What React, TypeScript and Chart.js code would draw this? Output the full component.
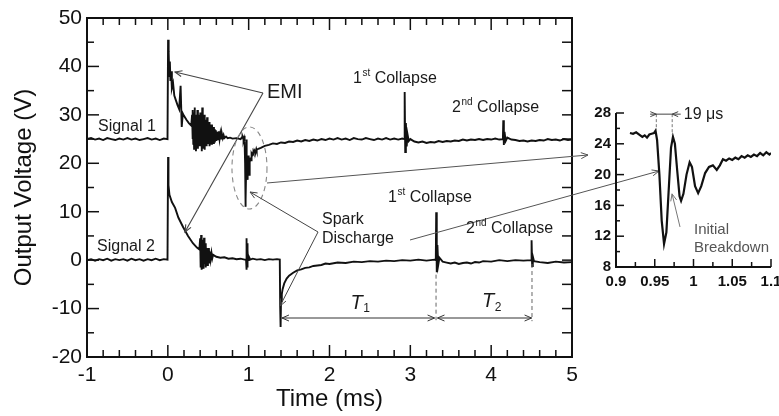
import React, { useEffect, useRef } from "react";
import { Chart, registerables } from "chart.js";
Chart.register(...registerables);

const FONT = "'Liberation Sans', Arial, Helvetica, sans-serif";

// time (ms), output voltage (V)
const SIGNAL_1: [number, number][] = [
  [-1.0, 25.0], [-0.95, 25.2], [-0.9, 24.9], [-0.85, 25.1], [-0.8, 24.8], [-0.75, 25.2], [-0.7, 25.0], [-0.65, 24.8], [-0.6, 25.1], [-0.55, 24.9], [-0.5, 25.2], [-0.45, 24.9], [-0.4, 25.1], [-0.35, 24.8], [-0.3, 25.0], [-0.25, 25.2], [-0.2, 24.9], [-0.15, 25.1], [-0.1, 24.8], [-0.05, 25.1], [-0.004, 25.0],
  [0.003, 45.5], [0.008, 40.0], [0.012, 43.0], [0.018, 38.0], [0.025, 41.0], [0.032, 37.0], [0.04, 39.0], [0.05, 35.5], [0.065, 36.5], [0.08, 34.0], [0.1, 33.0], [0.12, 32.0], [0.14, 31.2], [0.158, 36.0], [0.172, 27.5], [0.185, 30.3], [0.2, 29.8], [0.23, 29.0], [0.26, 28.3], [0.29, 27.8],
  [0.3, 30.0], [0.305, 25.0], [0.31, 31.0], [0.315, 24.0], [0.32, 30.5], [0.325, 23.0], [0.33, 31.5], [0.336, 24.0], [0.342, 30.0], [0.348, 22.5], [0.354, 29.5], [0.36, 24.0], [0.366, 31.0], [0.372, 23.0], [0.378, 30.0], [0.384, 24.5], [0.39, 29.0], [0.396, 23.5], [0.402, 30.5], [0.408, 24.0], [0.414, 29.0], [0.42, 22.5], [0.426, 31.5], [0.432, 23.0], [0.438, 29.5], [0.444, 24.0], [0.45, 30.0], [0.456, 22.8], [0.462, 29.0], [0.468, 24.5], [0.474, 28.5], [0.48, 23.5], [0.486, 29.5], [0.492, 24.0], [0.498, 28.0], [0.504, 24.5], [0.51, 28.5], [0.516, 23.5], [0.522, 28.0], [0.528, 24.8], [0.534, 27.5], [0.54, 24.0], [0.546, 28.0], [0.552, 25.0], [0.558, 27.2], [0.564, 24.2], [0.57, 27.5], [0.576, 24.5], [0.582, 27.0], [0.588, 25.0], [0.594, 26.8], [0.6, 24.6], [0.61, 26.5], [0.62, 24.8], [0.63, 26.6], [0.64, 25.0], [0.65, 26.2], [0.66, 25.1], [0.67, 26.0], [0.68, 25.2], [0.69, 25.8], [0.7, 25.2], [0.72, 25.5], [0.74, 25.2], [0.77, 25.3], [0.8, 25.1], [0.85, 25.2], [0.9, 25.0],
  [0.918, 25.4], [0.922, 25.3], [0.926, 25.5], [0.93, 25.2], [0.934, 24.9], [0.937, 25.1], [0.94, 24.8], [0.943, 25.2], [0.946, 25.3], [0.949, 25.4], [0.951, 25.7], [0.953, 24.5], [0.956, 20.0], [0.959, 14.0], [0.962, 11.0], [0.965, 12.5], [0.968, 18.0], [0.971, 23.5], [0.9735, 24.9], [0.976, 24.0], [0.979, 20.5], [0.982, 17.2], [0.984, 16.6], [0.987, 17.5], [0.991, 20.0], [0.995, 21.6], [0.998, 21.0], [1.002, 18.5], [1.006, 17.6], [1.01, 18.5], [1.015, 20.2], [1.02, 21.0], [1.025, 21.2], [1.03, 20.6], [1.034, 21.2], [1.038, 22.0], [1.042, 21.8], [1.046, 22.1], [1.05, 21.9], [1.054, 22.2], [1.058, 22.0], [1.062, 22.4], [1.066, 22.2], [1.07, 22.5], [1.074, 22.3], [1.078, 22.6], [1.082, 22.4], [1.086, 22.8], [1.09, 22.5], [1.094, 22.9], [1.098, 22.6], [1.1, 22.8],
  [1.12, 23.0], [1.15, 23.2], [1.2, 23.6], [1.25, 23.8], [1.3, 24.1], [1.35, 24.0], [1.4, 24.3], [1.45, 24.2], [1.5, 24.5], [1.55, 24.4], [1.6, 24.7], [1.65, 24.5], [1.7, 24.8], [1.75, 24.6], [1.8, 24.9], [1.85, 24.7], [1.9, 25.0], [1.95, 24.8], [2.0, 25.1], [2.05, 24.9], [2.1, 25.2], [2.15, 24.9], [2.2, 25.1], [2.25, 24.8], [2.3, 25.2], [2.35, 25.0], [2.4, 24.9], [2.45, 25.2], [2.5, 25.0], [2.55, 24.8], [2.6, 25.1], [2.65, 24.9], [2.7, 25.2], [2.75, 24.9], [2.8, 25.1], [2.85, 24.9], [2.9, 25.1], [2.925, 25.0],
  [2.93, 34.7], [2.937, 22.3], [2.945, 28.3], [2.955, 23.5], [2.965, 26.0], [2.98, 24.6], [3.0, 25.0], [3.05, 24.5], [3.1, 24.3], [3.15, 24.5], [3.2, 24.2], [3.25, 24.4], [3.3, 24.3], [3.35, 24.6], [3.4, 24.4], [3.45, 24.6], [3.5, 24.5], [3.55, 24.7], [3.6, 24.6], [3.65, 24.9], [3.7, 24.7], [3.75, 24.9], [3.8, 24.8], [3.85, 25.0], [3.9, 24.8], [3.95, 25.0], [4.0, 24.9], [4.05, 25.1], [4.1, 24.9], [4.145, 25.0],
  [4.15, 28.9], [4.157, 23.8], [4.165, 26.5], [4.18, 24.6], [4.2, 25.3], [4.25, 24.9], [4.3, 24.8], [4.35, 24.6], [4.4, 24.7], [4.45, 24.5], [4.5, 24.7], [4.55, 24.6], [4.6, 24.8], [4.65, 24.7], [4.7, 25.0], [4.75, 24.8], [4.8, 24.9], [4.85, 24.7], [4.9, 25.0], [4.95, 24.8], [5.0, 24.9],
];

const SIGNAL_2: [number, number][] = [
  [-1.0, 0.0], [-0.95, 0.2], [-0.9, -0.1], [-0.85, 0.2], [-0.8, 0.0], [-0.75, 0.3], [-0.7, -0.1], [-0.65, 0.2], [-0.6, 0.0], [-0.55, 0.2], [-0.5, -0.1], [-0.45, 0.3], [-0.4, 0.0], [-0.35, 0.2], [-0.3, -0.1], [-0.25, 0.2], [-0.2, 0.0], [-0.15, 0.3], [-0.1, 0.0], [-0.05, 0.2], [-0.004, 0.1],
  [0.003, 21.3], [0.008, 15.5], [0.02, 13.5], [0.05, 12.0], [0.09, 10.8], [0.13, 8.8], [0.19, 6.8], [0.25, 5.0], [0.31, 3.5], [0.36, 2.6], [0.39, 2.2],
  [0.4, 4.5], [0.406, -1.5], [0.412, 5.2], [0.418, -2.0], [0.424, 4.2], [0.43, -1.2], [0.436, 3.8], [0.442, -1.8], [0.448, 4.6], [0.454, -0.8], [0.46, 3.5], [0.466, -1.5], [0.472, 3.0], [0.478, -0.5], [0.484, 2.5], [0.49, -1.0], [0.496, 2.2], [0.502, 0.0], [0.508, 2.5], [0.514, -0.5], [0.52, 1.8], [0.53, 0.2], [0.54, 1.5], [0.55, 0.4], [0.56, 1.1],
  [0.6, 0.7], [0.65, 0.5], [0.7, 0.6], [0.75, 0.3], [0.8, 0.4], [0.85, 0.2], [0.9, 0.3], [0.95, 0.1],
  [0.968, 0.1], [0.972, 4.5], [0.976, -2.0], [0.98, 3.5], [0.984, -1.5], [0.988, 2.0], [0.993, 0.0], [1.0, 0.8], [1.02, 0.1], [1.05, 0.3], [1.1, 0.1], [1.15, 0.2], [1.2, 0.0], [1.25, 0.2], [1.3, 0.1], [1.35, 0.2], [1.385, 0.1],
  [1.39, -9.7], [1.395, -13.8], [1.4, -8.5], [1.41, -7.0], [1.42, -6.0], [1.44, -4.8], [1.47, -3.8], [1.5, -3.2], [1.55, -2.6], [1.6, -2.1], [1.65, -1.9], [1.7, -1.6], [1.75, -1.5], [1.8, -1.2], [1.85, -1.1], [1.9, -1.0], [1.95, -0.7], [2.0, -0.8], [2.1, -0.5], [2.2, -0.6], [2.3, -0.3], [2.4, -0.4], [2.5, -0.2], [2.6, -0.3], [2.7, -0.1], [2.8, -0.2], [2.9, 0.0], [3.0, -0.1], [3.1, 0.1], [3.2, -0.1], [3.3, 0.1], [3.315, 0.0],
  [3.32, 9.9], [3.327, -2.5], [3.335, 3.1], [3.345, -1.0], [3.36, 0.5], [3.4, -0.3], [3.45, -0.5], [3.5, -0.7], [3.55, -0.5], [3.6, -0.8], [3.65, -0.6], [3.7, -0.5], [3.75, -0.7], [3.8, -0.4], [3.85, -0.5], [3.9, -0.2], [4.0, -0.3], [4.1, 0.0], [4.2, -0.2], [4.3, 0.0], [4.4, -0.1], [4.495, 0.0],
  [4.5, 4.1], [4.507, -1.2], [4.515, 0.8], [4.53, -0.2], [4.6, -0.4], [4.7, -0.6], [4.8, -0.3], [4.9, -0.5], [5.0, -0.4],
];

const X_RANGE = [-1, 5];
const Y_RANGE = [-20, 50];
const INSET_X_RANGE = [0.9, 1.1];
const INSET_Y_RANGE = [8, 28];
const INSET_WINDOW = [0.915, 1.1];

function seg(ctx: CanvasRenderingContext2D, x1: number, y1: number, x2: number, y2: number) {
  ctx.beginPath();
  ctx.moveTo(x1, y1);
  ctx.lineTo(x2, y2);
  ctx.stroke();
}

function head(ctx: CanvasRenderingContext2D, xf: number, yf: number, xt: number, yt: number, len = 7, w = 3) {
  const a = Math.atan2(yt - yf, xt - xf);
  const bx = xt - len * Math.cos(a), by = yt - len * Math.sin(a);
  ctx.beginPath();
  ctx.moveTo(bx + w * Math.sin(a), by - w * Math.cos(a));
  ctx.lineTo(xt, yt);
  ctx.lineTo(bx - w * Math.sin(a), by + w * Math.cos(a));
  ctx.stroke();
}

function arrow(ctx: CanvasRenderingContext2D, x1: number, y1: number, x2: number, y2: number, both = false) {
  seg(ctx, x1, y1, x2, y2);
  head(ctx, x1, y1, x2, y2);
  if (both) head(ctx, x2, y2, x1, y1);
}

function supText(ctx: CanvasRenderingContext2D, x: number, cy: number, base: string, sup: string, rest: string, size: number) {
  ctx.textAlign = "left";
  ctx.textBaseline = "middle";
  ctx.font = `${size}px ${FONT}`;
  ctx.fillText(base, x, cy);
  let w = ctx.measureText(base).width;
  ctx.font = `${Math.round(size * 0.6)}px ${FONT}`;
  ctx.fillText(sup, x + w + 0.5, cy - size * 0.33);
  w += ctx.measureText(sup).width + 0.5;
  ctx.font = `${size}px ${FONT}`;
  ctx.fillText(rest, x + w, cy);
}

function subItalic(ctx: CanvasRenderingContext2D, x: number, cy: number, main: string, sub: string, size: number) {
  ctx.textAlign = "left";
  ctx.textBaseline = "middle";
  ctx.font = `italic ${size}px ${FONT}`;
  ctx.fillText(main, x, cy);
  const w = ctx.measureText(main).width;
  ctx.font = `${Math.round(size * 0.62)}px ${FONT}`;
  ctx.fillText(sub, x + w + 0.5, cy + size * 0.3);
}

const mainDecor = {
  id: "mainDecor",
  afterDraw(chart: any) {
    const { ctx, chartArea: a } = chart;
    const xs = chart.scales.x, ys = chart.scales.y;
    const X = (v: number) => xs.getPixelForValue(v);
    const Y = (v: number) => ys.getPixelForValue(v);
    ctx.save();
    ctx.strokeStyle = "#111";
    ctx.lineWidth = 2;
    ctx.strokeRect(a.left, a.top, a.right - a.left, a.bottom - a.top);
    ctx.lineWidth = 1.5;
    for (let i = 0; i <= 30; i++) {
      const p = X(X_RANGE[0] + i * 0.2);
      const L = i % 5 === 0 ? 12 : 7;
      seg(ctx, p, a.bottom, p, a.bottom - L);
      seg(ctx, p, a.top, p, a.top + L);
    }
    for (let i = 0; i <= 14; i++) {
      const p = Y(Y_RANGE[0] + i * 5);
      seg(ctx, a.left, p, a.left + (i % 2 === 0 ? 12 : 7), p);
      seg(ctx, a.right, p, a.right - 10, p);
    }

    // EMI pointers
    ctx.strokeStyle = "#444";
    ctx.lineWidth = 1.1;
    arrow(ctx, X(1.177), Y(34.5), X(0.089), Y(38.85));
    arrow(ctx, X(1.177), Y(34.5), X(0.212), Y(5.81));

    // dashed ellipse
    ctx.strokeStyle = "#888";
    ctx.setLineDash([5, 4]);
    ctx.beginPath();
    ctx.ellipse(X(1.01), Y(19.03), Math.abs(X(1.2265) - X(1.01)), Math.abs(Y(27.5) - Y(19.03)), 0, 0, Math.PI * 2);
    ctx.stroke();
    ctx.setLineDash([]);

    // pointers to inset
    ctx.strokeStyle = "#555";
    ctx.lineWidth = 1;
    arrow(ctx, X(1.227), Y(15.93), X(5.198), Y(21.71));
    arrow(ctx, X(2.996), Y(4.16), X(6.077), Y(18.41));

    // spark discharge pointers
    ctx.strokeStyle = "#444";
    arrow(ctx, X(1.858), Y(5.81), X(1.017), Y(14.07));
    arrow(ctx, X(1.858), Y(5.81), X(1.388), Y(-9.47));

    // collapse dashed verticals
    ctx.strokeStyle = "#666";
    ctx.setLineDash([4, 3]);
    seg(ctx, X(3.318), Y(-3), X(3.318), Y(-12.4));
    seg(ctx, X(4.505), Y(-0.8), X(4.505), Y(-12.6));
    ctx.setLineDash([]);

    // T1 / T2 dimension arrows
    ctx.strokeStyle = "#333";
    arrow(ctx, X(1.412), Y(-11.95), X(3.30), Y(-11.95), true);
    arrow(ctx, X(3.336), Y(-11.95), X(4.50), Y(-11.95), true);

    // texts
    ctx.fillStyle = "#1a1a1a";
    ctx.textAlign = "left";
    ctx.textBaseline = "middle";
    ctx.font = `20px ${FONT}`;
    ctx.fillText("EMI", X(1.227), Y(34.7));
    ctx.font = `16px ${FONT}`;
    ctx.fillText("Signal 1", X(-0.864), Y(27.5));
    ctx.fillText("Signal 2", X(-0.876), Y(2.7));
    ctx.fillText("Spark", X(1.907), Y(8.29));
    ctx.fillText("Discharge", X(1.907), Y(4.37));
    supText(ctx, X(2.291), Y(37.4), "1", "st", " Collapse", 16);
    supText(ctx, X(3.516), Y(31.5), "2", "nd", " Collapse", 16);
    supText(ctx, X(2.724), Y(13.0), "1", "st", " Collapse", 16);
    supText(ctx, X(3.689), Y(6.6), "2", "nd", " Collapse", 16);
    subItalic(ctx, X(2.36) - 8, Y(-8.85), "T", "1", 20);
    subItalic(ctx, X(3.887), Y(-8.5), "T", "2", 20);
    ctx.restore();
  },
};

const insetDecor = {
  id: "insetDecor",
  afterDraw(chart: any) {
    const { ctx, chartArea: a } = chart;
    const xs = chart.scales.x, ys = chart.scales.y;
    const X = (v: number) => xs.getPixelForValue(v);
    const Y = (v: number) => ys.getPixelForValue(v);
    ctx.save();
    ctx.strokeStyle = "#111";
    ctx.lineWidth = 2;
    seg(ctx, a.left, a.top, a.left, a.bottom + 1);
    seg(ctx, a.left - 1, a.bottom, a.right, a.bottom);
    ctx.lineWidth = 1.5;
    for (let i = 0; i <= 10; i++) {
      const p = Y(INSET_Y_RANGE[0] + i * 2);
      seg(ctx, a.left, p, a.left + (i % 2 === 0 ? 8 : 4), p);
    }
    for (let i = 0; i <= 8; i++) {
      const p = X(INSET_X_RANGE[0] + i * 0.025);
      seg(ctx, p, a.bottom, p, a.bottom - (i % 2 === 0 ? 8 : 5));
    }

    // 19 us marker
    const yTop = Y(27.85);
    ctx.strokeStyle = "#777";
    ctx.lineWidth = 1;
    ctx.setLineDash([3, 2]);
    seg(ctx, X(0.952), yTop, X(0.952), Y(25.8));
    seg(ctx, X(0.9725), yTop, X(0.9725), Y(25.2));
    ctx.setLineDash([]);
    ctx.strokeStyle = "#444";
    seg(ctx, X(0.944), yTop, X(0.9835), yTop);
    head(ctx, X(0.944), yTop, X(0.952), yTop, 6, 2.5);
    head(ctx, X(0.9835), yTop, X(0.9725), yTop, 6, 2.5);
    ctx.fillStyle = "#1a1a1a";
    ctx.font = `16px ${FONT}`;
    ctx.textAlign = "left";
    ctx.textBaseline = "middle";
    ctx.fillText("19 \u03bcs", X(0.9875), yTop);

    // initial breakdown
    ctx.strokeStyle = "#777";
    arrow(ctx, X(0.9826), Y(13.2), X(0.9723), Y(17.5));
    ctx.fillStyle = "#555";
    ctx.font = `15px ${FONT}`;
    ctx.fillText("Initial", X(1.0006), Y(12.8));
    ctx.fillText("Breakdown", X(1.0006), Y(10.5));
    ctx.restore();
  },
};

export default function App() {
  const mainRef = useRef<HTMLCanvasElement | null>(null);
  const insetRef = useRef<HTMLCanvasElement | null>(null);

  useEffect(() => {
    document.body.style.margin = "0";
    const lineStyle = { borderColor: "#111", pointRadius: 0, tension: 0, fill: false };
    const s1 = SIGNAL_1.map(([x, y]) => ({ x, y }));
    const s2 = SIGNAL_2.map(([x, y]) => ({ x, y }));
    const inset = SIGNAL_1.filter(([t]) => t >= INSET_WINDOW[0] && t <= INSET_WINDOW[1]).map(([x, y]) => ({ x, y }));

    const main = new Chart(mainRef.current as HTMLCanvasElement, {
      type: "line",
      data: {
        datasets: [
          { label: "Signal 1", data: s1, borderWidth: 1.9, ...lineStyle },
          { label: "Signal 2", data: s2, borderWidth: 1.9, ...lineStyle },
        ],
      },
      options: {
        animation: false,
        responsive: false,
        devicePixelRatio: 1,
        events: [],
        layout: { padding: { left: 0, top: 18, right: 207, bottom: 0 } },
        plugins: { legend: { display: false }, tooltip: { enabled: false } },
        scales: {
          x: {
            type: "linear",
            min: X_RANGE[0],
            max: X_RANGE[1],
            grid: { display: false, drawTicks: false },
            border: { display: false },
            ticks: { stepSize: 1, color: "#111", padding: 6, font: { family: FONT, size: 21 } },
            title: { display: true, text: "Time (ms)", color: "#111", font: { family: FONT, size: 24 }, padding: { top: 0, bottom: 2 } },
            afterFit: (s: any) => { s.height = 59; s.paddingLeft = 0; s.paddingRight = 0; },
          },
          y: {
            type: "linear",
            min: Y_RANGE[0],
            max: Y_RANGE[1],
            grid: { display: false, drawTicks: false },
            border: { display: false },
            ticks: { stepSize: 10, color: "#111", padding: 5, font: { family: FONT, size: 21 } },
            title: { display: true, text: "Output Voltage (V)", color: "#111", font: { family: FONT, size: 24 }, padding: { top: 10, bottom: 0 } },
            afterFit: (s: any) => { s.width = 87; s.paddingTop = 0; s.paddingBottom = 0; },
          },
        },
      },
      plugins: [mainDecor],
    } as any);

    const ins = new Chart(insetRef.current as HTMLCanvasElement, {
      type: "line",
      data: { datasets: [{ label: "Signal 1 (detail)", data: inset, borderWidth: 2.2, ...lineStyle }] },
      options: {
        animation: false,
        responsive: false,
        devicePixelRatio: 1,
        events: [],
        layout: { padding: { left: 0, top: 18, right: 8, bottom: 0 } },
        plugins: { legend: { display: false }, tooltip: { enabled: false } },
        scales: {
          x: {
            type: "linear",
            min: INSET_X_RANGE[0],
            max: INSET_X_RANGE[1],
            grid: { display: false, drawTicks: false },
            border: { display: false },
            ticks: {
              stepSize: 0.05,
              color: "#111",
              padding: 6,
              font: { family: FONT, size: 15, weight: "bold" },
              callback: (v: any) => String(+Number(v).toFixed(2)),
            },
            afterFit: (s: any) => { s.height = 33; s.paddingLeft = 0; s.paddingRight = 0; },
          },
          y: {
            type: "linear",
            min: INSET_Y_RANGE[0],
            max: INSET_Y_RANGE[1],
            grid: { display: false, drawTicks: false },
            border: { display: false },
            ticks: { stepSize: 4, color: "#111", padding: 5, font: { family: FONT, size: 15, weight: "bold" } },
            afterFit: (s: any) => { s.width = 41; s.paddingTop = 0; s.paddingBottom = 0; },
          },
        },
      },
      plugins: [insetDecor],
    } as any);

    return () => {
      main.destroy();
      ins.destroy();
    };
  }, []);

  return (
    <div style={{ position: "relative", width: 779, height: 416, overflow: "hidden", background: "#fff" }}>
      <canvas ref={mainRef} width={779} height={416} style={{ position: "absolute", left: 0, top: 0, width: 779, height: 416 }} />
      <canvas ref={insetRef} width={204} height={205} style={{ position: "absolute", left: 575, top: 95, width: 204, height: 205 }} />
    </div>
  );
}
